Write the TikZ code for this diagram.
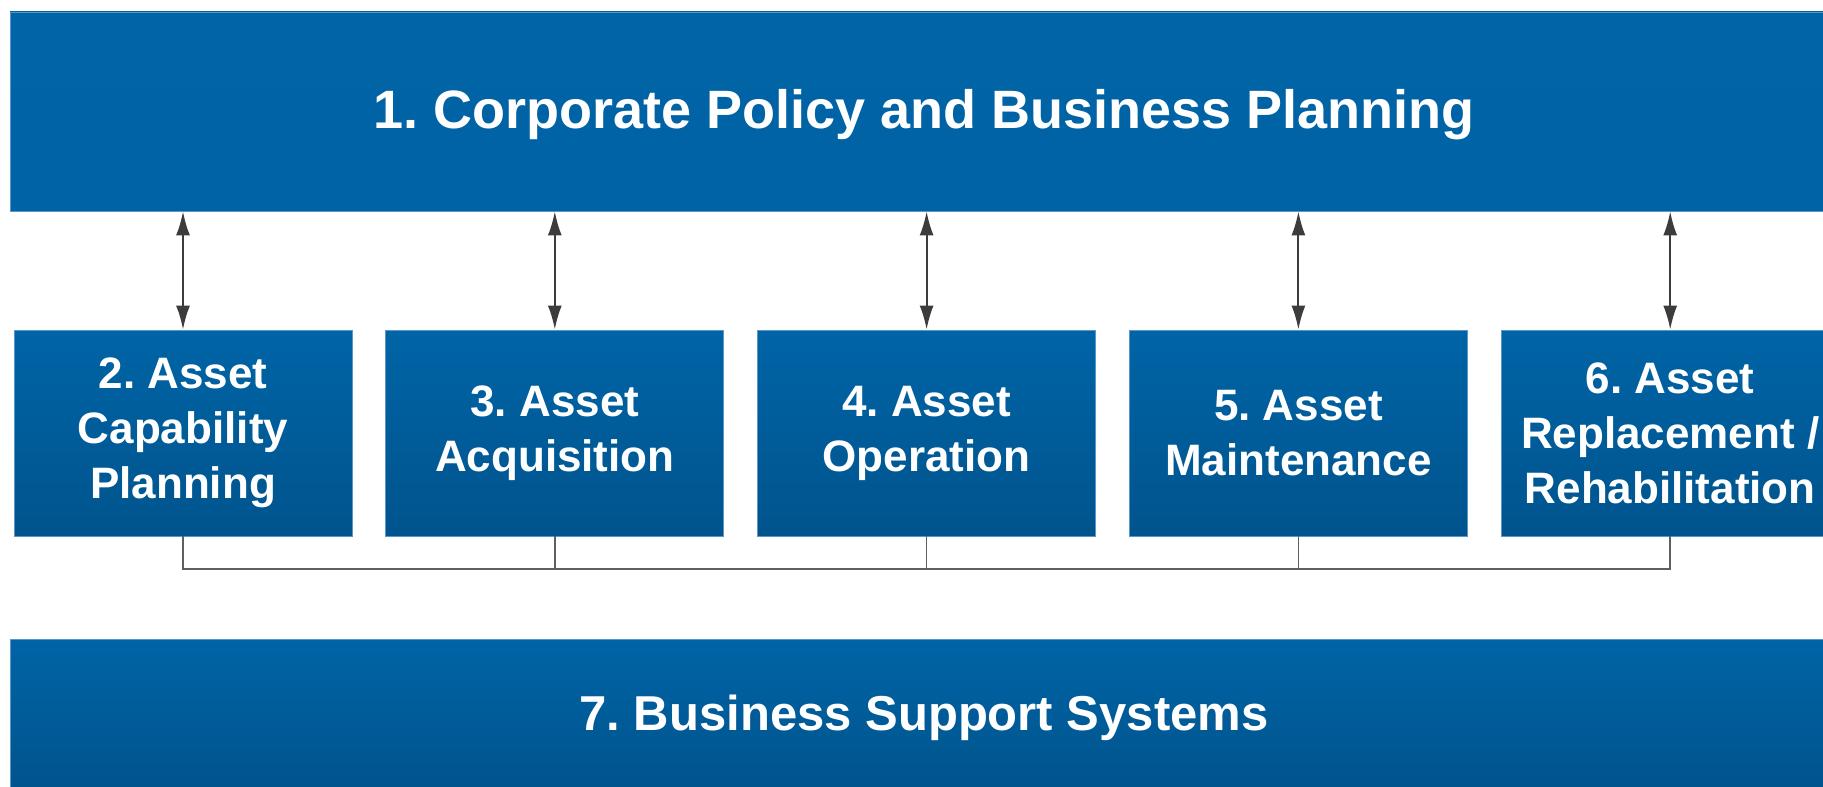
\documentclass[tikz,border=0pt]{standalone}
\usepackage{fontspec}
\setmainfont{Liberation Sans}
\usetikzlibrary{positioning,arrows.meta}
\frenchspacing

\definecolor{bluetop}{RGB}{0,100,166}
\definecolor{bluebot}{RGB}{0,84,141}
\definecolor{blueedge}{RGB}{90,150,200}
\definecolor{linkgray}{RGB}{60,60,60}
\definecolor{busgray}{RGB}{95,95,95}

\begin{document}
\begin{tikzpicture}[x=0.5pt, y=-0.5pt, >={Latex[length=12pt,width=7pt]},
		band/.style={top color=bluetop, bottom color=bluetop!92!bluebot, draw=blueedge, line width=0.4pt,
			text=white, minimum width=914pt, inner sep=0pt},
		stage/.style={top color=bluetop, bottom color=bluebot, draw=blueedge, line width=0.4pt,
			text=white, minimum width=169pt, minimum height=103pt, inner sep=0pt, align=center,
			font=\fontsize{22}{27.5}\selectfont\bfseries},
		link/.style={linkgray, line width=1pt},
		busline/.style={busgray, line width=0.75pt}]
	
	% --- 1. canvas ---
	\clip (0,0) rectangle (1823,786);
	\fill[white] (0,0) rectangle (1823,786);
	
	% --- 2. top band ---
	\node[band, minimum height=99.5pt, text height=19.5pt, text depth=2.5pt,
		font=\fontsize{27}{33}\selectfont\bfseries] (policy) at (924,111.5)
		{1. Corporate Policy and Business Planning};
	
	% --- 3. life-cycle stages ---
	\node[stage] (s2) at (183,433) {2. Asset\\Capability\\Planning};
	\node[stage, right=16.5pt of s2] (s3) {3. Asset\\Acquisition};
	\node[stage, right=16.5pt of s3] (s4) {4. Asset\\Operation};
	\node[stage, right=16.5pt of s4] (s5) {5. Asset\\Maintenance};
	\node[stage, right=16.5pt of s5] (s6) {6. Asset\\Replacement /\\Rehabilitation};
	
	% --- 4. bottom band ---
	\node[band, minimum height=74pt, text height=17.6pt, text depth=0pt, bottom color=bluebot,
		font=\fontsize{24.5}{30}\selectfont\bfseries] (support) at (924,713) {7. Business Support Systems};
	
	% --- 5. links to the policy band ---
	\draw[link, <->] (s2.north |- policy.south) -- (s2.north);
	\draw[link, <->] (s3.north |- policy.south) -- (s3.north);
	\draw[link, <->] (s4.north |- policy.south) -- (s4.north);
	\draw[link, <->] (s5.north |- policy.south) -- (s5.north);
	\draw[link, <->] (s6.north |- policy.south) -- (s6.north);
	
	% --- 6. common bus under the stages ---
	\coordinate (bus) at (0,569);
	\draw[busline] (s2.south) |- (s6.south |- bus) -- (s6.south);
	\draw[busline] (s3.south) -- (s3.south |- bus);
	\draw[busline] (s4.south) -- (s4.south |- bus);
	\draw[busline] (s5.south) -- (s5.south |- bus);
	
\end{tikzpicture}
\end{document}
